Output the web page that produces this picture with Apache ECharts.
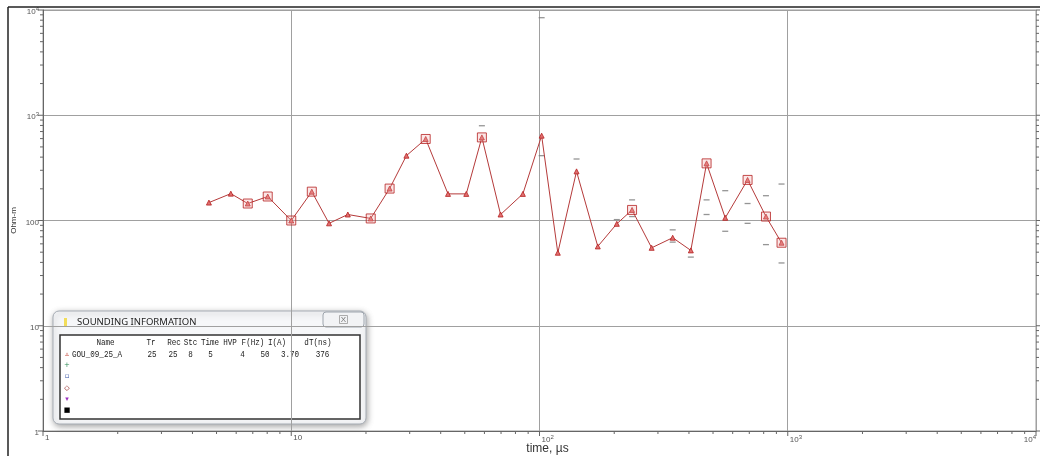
<!DOCTYPE html>
<html>
<head>
<meta charset="utf-8">
<script src="https://cdn.jsdelivr.net/npm/echarts@6/dist/echarts.min.js"></script>
<style>
  html, body { margin: 0; padding: 0; background: #fff; }
  #chart { width: 1040px; height: 456px; }
</style>
</head>
<body>
<div id="chart"></div>
<script>
// Sounding GOU_09_25_A: apparent resistivity (Ohm-m) against time (µs), log-log

const timeUs = [4.66, 5.71, 6.68, 8.04, 10.0, 12.1, 14.2, 16.9, 20.9, 24.9, 29.1, 34.8,
  42.8, 50.7, 58.6, 69.7, 85.7, 102, 118.5, 141, 171.7, 204.8, 236, 283, 344, 407,
  471, 560, 689, 817, 944];
const rhoOhmM = [148, 180, 145, 169, 100, 188, 94, 114, 104.6, 201, 413, 595,
  179, 179, 616, 114, 179, 640, 49.4, 293, 56.7, 93, 126, 55, 68.6, 52,
  349, 106, 243, 109, 61.5];

// indices of the gates drawn with a box around the triangle marker
const boxedGates = [2, 3, 4, 5, 8, 9, 11, 14, 22, 26, 28, 29, 30];

// error-limit dashes [time, resistivity]
const errorDashes = [[102, 8450], [102, 413], [58.6, 795], [141, 384], [204.8, 102],
  [236, 157], [236, 109], [344, 81.5], [344, 62.3], [407, 44.9], [471, 157], [471, 114],
  [560, 192], [560, 79], [689, 145], [689, 94], [817, 172], [817, 59], [944, 222], [944, 39.5]];

// axis decades
const axisMin = 1;
const axisMax = 10000;
const decades = [1, 10, 100, 1000, 10000];

// sounding information table
const infoTitle = 'SOUNDING INFORMATION';
const infoHeader = ['Name', 'Tr', 'Rec', 'Stc', 'Time', 'HVP', 'F(Hz)', 'I(A)', 'dT(ns)'];
const infoRow = ['GOU_09_25_A', '25', '25', '8', '5', '4', '50', '3.70', '376'];
const infoSymbols = ['▵', '+', '▫', '◇', '▾', '■'];
const infoSymbolColors = ['#c0392b', '#2e8b57', '#2b4aa0', '#8b1a1a', '#9b30c0', '#000'];

// minor tick values 2..9 within each decade
const minorTicks = [];
for (let d = 0; d < decades.length - 1; d++) {
  for (let m = 2; m <= 9; m++) minorTicks.push(m * decades[d]);
}

const chart = echarts.init(document.getElementById('chart'));

const labelRich = {
  b: { fontSize: 8, color: '#555', fontFamily: 'Liberation Sans' },
  s: { fontSize: 6, color: '#555', fontFamily: 'Liberation Sans', padding: [0, 0, 6, 0] }
};
function expLabel(v) {
  const e = Math.round(Math.log10(v));
  return '{b|10}{s|' + e + '}';
}

// layout of the information window
const headerCenters = [105.5, 151, 174, 190.5, 210, 230, 253, 277, 318];
const valueCenters = [0, 152, 173, 190.5, 210.5, 242.5, 265, 290, 322.5];
const rowYs = [342.5, 354];
const symbolYs = [354, 365.5, 376.5, 388, 399, 410.5];

const tableFont = { fontFamily: 'Liberation Mono', fontSize: 9.5, fill: '#222' };
const infoGraphics = [
  { type: 'rect', shape: { x: 53, y: 311, width: 313, height: 113, r: 6 },
    style: { fill: '#f6f7f9', stroke: '#a7adb5', lineWidth: 1,
      shadowBlur: 6, shadowColor: 'rgba(0,0,0,0.35)', shadowOffsetX: 1, shadowOffsetY: 2 } },
  { type: 'rect', shape: { x: 64, y: 318, width: 3, height: 9 }, style: { fill: '#f2dd5a' } },
  { type: 'text', x: 77, y: 322.5,
    style: { text: infoTitle, fontFamily: 'Noto Sans', fontSize: 9.5, fill: '#222', verticalAlign: 'middle' } },
  { type: 'rect', shape: { x: 323, y: 312, width: 41, height: 15, r: 3 },
    style: { fill: '#f2f3f5', stroke: '#9ea5ad', lineWidth: 1 } },
  { type: 'text', x: 343.5, y: 319.5,
    style: { text: 'X', fontFamily: 'Liberation Sans', fontSize: 8, fill: '#777', align: 'center', verticalAlign: 'middle' } },
  { type: 'rect', shape: { x: 339.5, y: 315.5, width: 8, height: 8 },
    style: { fill: 'none', stroke: '#999', lineWidth: 0.8 } },
  { type: 'rect', shape: { x: 60, y: 335, width: 300, height: 84 },
    style: { fill: '#fff', stroke: '#333', lineWidth: 1.5 } }
];
infoHeader.forEach((h, i) => {
  infoGraphics.push({ type: 'text', x: headerCenters[i], y: rowYs[0], scaleX: 0.8,
    style: Object.assign({ text: h, align: 'center', verticalAlign: 'middle' }, tableFont) });
});
infoRow.forEach((v, i) => {
  infoGraphics.push({ type: 'text', x: i === 0 ? 72 : valueCenters[i], y: rowYs[1], scaleX: 0.8,
    style: Object.assign({ text: v, align: i === 0 ? 'left' : 'center', verticalAlign: 'middle' }, tableFont) });
});
infoSymbols.forEach((s, i) => {
  infoGraphics.push({ type: 'text', x: 67, y: symbolYs[i],
    style: { text: s, fontFamily: 'DejaVu Sans', fontSize: 7, fill: infoSymbolColors[i], align: 'center', verticalAlign: 'middle' } });
});

// tick marks drawn through the axes' own scales
function tickSeries(values, len) {
  return {
    type: 'custom', silent: true, clip: false, z: 5,
    data: values.map(v => [v]),
    renderItem: function (params, api) {
      const v = api.value(0);
      const b = api.coord([v, axisMin]);
      const l = api.coord([axisMin, v]);
      const r = api.coord([axisMax, v]);
      const st = { stroke: '#666', lineWidth: 1 };
      return { type: 'group', children: [
        { type: 'line', shape: { x1: b[0], y1: b[1], x2: b[0], y2: b[1] + len }, style: st },
        { type: 'line', shape: { x1: l[0], y1: l[1], x2: l[0] - len, y2: l[1] }, style: st },
        { type: 'line', shape: { x1: r[0], y1: r[1], x2: r[0] + len, y2: r[1] }, style: st }
      ] };
    }
  };
}

const option = {
  backgroundColor: '#fff',
  animation: false,
  grid: { left: 43, right: 4, top: 10, bottom: 25, outerBoundsMode: 'none', containLabel: false,
    show: true, borderColor: '#9a9a9a', borderWidth: 1 },
  xAxis: {
    type: 'log', logBase: 10, min: axisMin, max: axisMax,
    name: 'time, µs', nameLocation: 'middle', nameGap: 12, nameMoveOverlap: false,
    nameTextStyle: { fontFamily: 'Liberation Sans', fontSize: 12, color: '#333', padding: [0, 0, 0, 16] },
    axisLine: { lineStyle: { color: '#666', width: 1 } },
    axisTick: { show: false },
    axisLabel: {
      align: 'left', margin: 3, padding: [0, 0, 0, 2], alignMaxLabel: 'right',
      formatter: v => (v < 100 ? '{b|' + v + '}' : expLabel(v)),
      rich: labelRich
    },
    splitLine: { show: true, lineStyle: { color: '#a0a0a0', width: 1 } }
  },
  yAxis: {
    type: 'log', logBase: 10, min: axisMin, max: axisMax,
    name: 'Ohm-m', nameLocation: 'middle', nameGap: 25, nameRotate: 90, nameMoveOverlap: false,
    nameTextStyle: { fontFamily: 'Liberation Sans', fontSize: 8, color: '#333' },
    axisLine: { lineStyle: { color: '#666', width: 1 } },
    axisTick: { show: false },
    axisLabel: {
      margin: 4, padding: [4, 0, 0, 0],
      formatter: v => (v < 1000 ? '{b|' + v + '}' : expLabel(v)),
      rich: labelRich
    },
    splitLine: { show: true, lineStyle: { color: '#a0a0a0', width: 1 } }
  },
  graphic: [
    { type: 'line', shape: { x1: 8, y1: 7, x2: 1040, y2: 7 }, style: { stroke: '#222', lineWidth: 1.5 }, z: 50 },
    { type: 'line', shape: { x1: 8, y1: 7, x2: 8, y2: 456 }, style: { stroke: '#222', lineWidth: 1.5 }, z: 50 },
    { type: 'group', z: 100, children: infoGraphics }
  ],
  series: [
    tickSeries(decades, 5),
    tickSeries(minorTicks, 3),
    {
      type: 'scatter', z: 3, silent: true,
      data: errorDashes,
      symbol: 'rect', symbolSize: [6, 1.3],
      itemStyle: { color: '#7a7a7a' }
    },
    {
      type: 'line', z: 4,
      data: timeUs.map((t, i) => [t, rhoOhmM[i]]),
      lineStyle: { color: '#b53a3a', width: 1 },
      symbol: 'triangle', symbolSize: 5,
      itemStyle: { color: '#e07070', borderColor: '#b52020', borderWidth: 0.8 }
    },
    {
      type: 'scatter', z: 5, silent: true,
      data: boxedGates.map(i => [timeUs[i], rhoOhmM[i]]),
      symbol: 'rect', symbolSize: 9,
      itemStyle: { color: 'rgba(240,170,170,0.35)', borderColor: '#b52020', borderWidth: 1 }
    }
  ]
};

chart.setOption(option);
</script>
</body>
</html>
